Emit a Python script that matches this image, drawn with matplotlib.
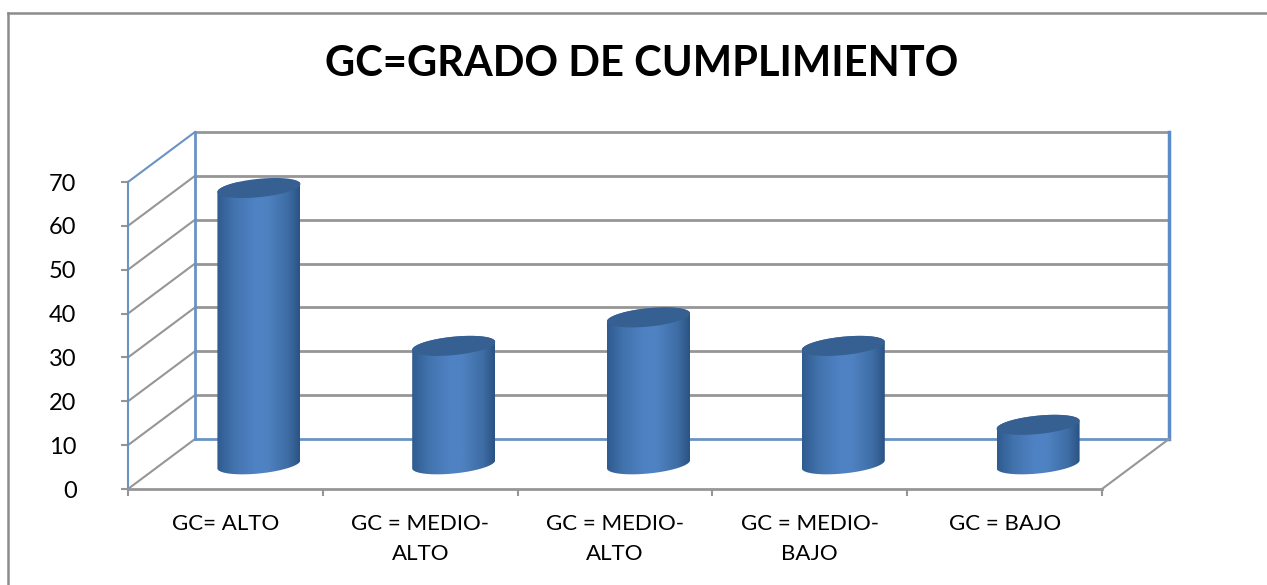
import numpy as np
import matplotlib
matplotlib.use('Agg')
import matplotlib.pyplot as plt
from matplotlib.colors import LinearSegmentedColormap
from matplotlib.lines import Line2D
from matplotlib.patches import PathPatch, Polygon
from matplotlib.path import Path

categories = ['GC= ALTO', 'GC = MEDIO-\nALTO', 'GC = MEDIO-\nALTO', 'GC = MEDIO-\nBAJO', 'GC = BAJO']
valores = [63, 27, 33.5, 27, 9]
y_ticks = [0, 10, 20, 30, 40, 50, 60, 70]
titulo = 'GC=GRADO DE CUMPLIMIENTO'

W, H = 1267, 585
GRIS = '#969696'
AZUL = '#6a93c4'

plt.rcParams['font.family'] = ['Lato', 'DejaVu Sans']

fig = plt.figure(figsize=(W / 100, H / 100), dpi=100)
# los ejes son el plano frontal del grafico 3D
x0, x1, y0, y1 = 128, 1102, 489, 182
ax = fig.add_axes([x0 / W, 1 - y0 / H, (x1 - x0) / W, (y0 - y1) / H])
ax.patch.set_visible(False)

# profundidad del grafico en unidades de datos
px_x = 5 / (x1 - x0)
px_y = 70 / (y0 - y1)
dx = 67 * px_x
dy = 50 * px_y

# paredes
for v in y_ticks:
    color = AZUL if v == 70 else GRIS
    ax.plot([0, dx], [v, v + dy], color=color, lw=1.5, clip_on=False, zorder=1)
    if v > 0:
        ax.plot([dx, 5 + dx], [v + dy, v + dy], color=GRIS, lw=2, clip_on=False, zorder=1)
ax.plot([dx, 5 + dx], [dy, dy], color=AZUL, lw=2, clip_on=False, zorder=1)
ax.plot([dx, dx], [dy, 70 + dy], color=AZUL, lw=2, clip_on=False, zorder=1)
ax.plot([5 + dx, 5 + dx], [dy, 70 + dy], color='#5b8bc9', lw=2.5, clip_on=False, zorder=1)
ax.plot([5, 5 + dx], [0, dy], color=GRIS, lw=1.5, clip_on=False, zorder=1)

# cilindros
cmap = LinearSegmentedColormap.from_list('cil', [
    (0.0, '#2f5b90'), (0.2, '#4273ad'), (0.45, '#4f82c4'), (0.6, '#4f82c2'),
    (0.85, '#3f6ea6'), (1.0, '#2b5384')])
a = 41.5 * px_x
b = 9.2 * px_y
s = 4 * px_y
t = np.linspace(0, 2 * np.pi, 121)
base = 24.7 * px_y

for i, v in enumerate(valores):
    cx = i + 0.5 + dx / 2
    ex = cx + a * np.cos(t)
    ey = b * np.sin(t) + s * np.cos(t)
    # cuerpo: arco inferior de la base + arco del borde superior
    t_inf = np.linspace(np.pi, 2 * np.pi, 60)
    t_sup = np.linspace(0, np.pi, 60)
    xs = np.r_[cx + a * np.cos(t_inf), cx + a * np.cos(t_sup)]
    ys = np.r_[base + b * np.sin(t_inf) + s * np.cos(t_inf),
               base + v + b * np.sin(t_sup) + s * np.cos(t_sup)]
    im = ax.imshow(np.linspace(0, 1, 200).reshape(1, -1), cmap=cmap, aspect='auto',
                   extent=[cx - a, cx + a, 0, 80], zorder=3, clip_on=True)
    im.set_clip_path(PathPatch(Path(np.c_[xs, ys]), transform=ax.transData))
    ax.add_patch(Polygon(np.c_[ex, base + v + ey], closed=True, fc='#365f92', ec='none',
                         zorder=4, clip_on=False))

ax.set_xlim(0, 5)
ax.set_ylim(0, 70)

for lado in ['top', 'right']:
    ax.spines[lado].set_visible(False)
ax.spines['left'].set_color(AZUL)
ax.spines['left'].set_linewidth(1.5)
ax.spines['bottom'].set_color(GRIS)
ax.spines['bottom'].set_linewidth(2)

ax.set_yticks(y_ticks)
ax.tick_params(axis='y', length=5, width=1.5, color=GRIS, pad=32, labelsize=17, labelcolor='black')
ax.set_xticks(range(6))
ax.set_xticklabels([])
ax.set_xticks(np.arange(5) + 0.5, minor=True)
ax.set_xticklabels(categories, minor=True, fontsize=16, linespacing=1.6)
ax.tick_params(axis='x', which='major', length=5, width=1.5, color=GRIS)
ax.tick_params(axis='x', which='minor', length=0, pad=18)

fig.text(642 / W, 1 - 64 / H, titulo, ha='center', va='center', fontsize=30, fontweight='bold')

# marco exterior: solo izquierda y arriba, el resto queda fuera de la imagen
for xs, ys in [([8, 8], [H, 13]), ([8, W], [13, 13])]:
    fig.add_artist(Line2D(np.array(xs) / W, 1 - np.array(ys) / H, color='#8c8c8c', lw=1.8))

fig.savefig('out.png', dpi=100)
